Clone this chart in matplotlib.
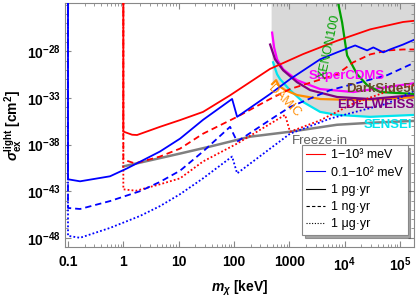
import numpy as np
import matplotlib
matplotlib.use("Agg")
import matplotlib.pyplot as plt
from matplotlib.lines import Line2D
from matplotlib.ticker import FixedLocator, FixedFormatter, LogLocator, NullFormatter

plt.rcParams['font.family'] = ['Liberation Sans', 'DejaVu Sans']
plt.rcParams['mathtext.fontset'] = 'custom'
plt.rcParams['mathtext.rm'] = 'Liberation Sans:bold'
plt.rcParams['mathtext.bf'] = 'Liberation Sans:bold'
plt.rcParams['mathtext.it'] = 'Liberation Sans:italic:bold'

# masses in keV, cross sections as log10(sigma / cm^2)
red_solid_m = [1.0, 1.0, 1.44, 1.77, 4.6, 10.6, 27.6, 85, 447, 1770, 7270, 29000, 114000, 188000]
red_solid_s = [-20, -36.6, -36.94, -36.97, -36.09, -35.37, -34.49, -32.71, -29.88, -28.29, -26.86, -25.63, -24.84, -24.7]

red_dash_m = [1.0, 1.0, 1.62, 4.6, 10.6, 27.6, 114, 450, 1030, 7300, 14300, 28900, 58700, 114000, 188000]
red_dash_s = [-20, -39.6, -40.02, -39.28, -38.43, -36.83, -35.02, -33.1, -32.04, -30.45, -29.17, -28.32, -27.9, -27.79, -27.79]

red_dot_m = [1.0, 1.0, 1.7, 4.6, 10.6, 27.6, 114, 450, 839, 1030, 3600, 14300, 58700, 188000]
red_dot_s = [-20, -42.8, -42.95, -42.26, -41.62, -39.81, -37.89, -35.77, -34.81, -36.62, -35.4, -33.6, -32.3, -31.6]

blue_solid_m = [0.1, 0.1, 0.165, 0.575, 1.17, 4.6, 10.6, 27.6, 92.5, 114, 450, 1030, 3600, 7300, 15500,
                25500, 33000, 50000, 66000, 114000, 188000]
blue_solid_s = [-20, -41.72, -41.94, -41.40, -40.55, -38.74, -37.36, -35.34, -33.1, -35.02, -32.57, -30.98,
                -28.85, -28.1, -27.36, -27.89, -27.57, -28.1, -27.79, -27.26, -26.7]

blue_dash_m = [0.1, 0.1, 0.165, 0.575, 2.0, 4.6, 10.6, 27.6, 85, 114, 450, 1030, 5500, 58700, 188000]
blue_dash_s = [-20, -44.8, -44.91, -44.06, -43.0, -42.0, -40.8, -38.74, -36.09, -37.68, -35.34, -33.96,
               -32.15, -30.55, -29.17]

blue_dot_m = [0.1, 0.1, 0.165, 0.575, 2.0, 4.6, 10.6, 27.6, 92.5, 114, 450, 1030, 5500, 58700, 188000]
blue_dot_s = [-20, -47.79, -48.0, -46.94, -45.66, -44.6, -43.32, -41.62, -39.28, -41.09, -38.43, -36.83,
              -35.2, -33.6, -32.2]

freeze_m = [1.0, 10.6, 37, 195, 1030, 7300, 28900, 188000]
freeze_s = [-40.34, -38.96, -38.21, -37.15, -36.62, -35.87, -35.66, -35.45]

sensei_m = [509, 601, 682, 1030, 1780, 3610, 7310, 28900, 188000]
sensei_s = [-29.17, -30.45, -30.98, -32.15, -33.43, -34.49, -34.81, -35.02, -34.81]
damic_m = [489, 577, 653, 839, 1380, 3610, 14300, 58700, 188000]
damic_s = [-31.51, -31.09, -31.72, -32.15, -32.68, -33.11, -33.21, -33.11, -32.89]
supercdms_m = [489, 531, 601, 773, 1380, 3610, 14300, 58700, 188000]
supercdms_s = [-25.98, -27.57, -28.85, -29.91, -31.09, -32.04, -32.36, -31.83, -31.40]
edelweiss_m = [450, 553, 773, 1380, 2380, 7310, 28900, 188000]
edelweiss_s = [-27.26, -28.85, -30.02, -31.30, -32.15, -32.89, -33.11, -32.68]
xenon_m = [7620, 9020, 10200, 11100, 16800, 25500, 43900, 188000]
xenon_s = [-22.79, -24.91, -27.04, -28.43, -30.45, -31.62, -32.36, -32.57]

excl_start = 469  # keV, left edge of the shaded region

fig = plt.figure(figsize=(4.17, 2.97), dpi=100)
ax = fig.add_axes([0.157, 0.168, 0.836, 0.822])
ax.set_xscale('log')
ax.set_yscale('log')
ax.set_xlim(0.09, 1.8e5)
ax.set_ylim(1e-49, 10**-22.8)

# shaded excluded region: above the lowest experimental curve
grid = np.logspace(np.log10(excl_start), np.log10(2e5), 400)
lg = np.log10(grid)
env = np.full_like(grid, -22.0)
for m, s in [(sensei_m, sensei_s), (damic_m, damic_s), (supercdms_m, supercdms_s),
             (edelweiss_m, edelweiss_s), (xenon_m, xenon_s)]:
    env = np.minimum(env, np.interp(lg, np.log10(m), s, left=0, right=0))
ax.fill_between(grid, 10**env, 1e-20, color='#d9d9d9', lw=0, zorder=1)

exp_lw = 1.6
ax.plot(sensei_m, 10**np.array(sensei_s), color='#00e5ee', lw=exp_lw, zorder=2)
ax.plot(damic_m, 10**np.array(damic_s), color='#ff8c00', lw=exp_lw, zorder=2)
ax.plot(supercdms_m, 10**np.array(supercdms_s), color='#ff00ff', lw=exp_lw, zorder=2)
ax.plot(edelweiss_m, 10**np.array(edelweiss_s), color='#800080', lw=exp_lw, zorder=2)
ax.plot(xenon_m, 10**np.array(xenon_s), color='#00a000', lw=exp_lw, zorder=2)

ax.plot(freeze_m, 10**np.array(freeze_s), color='#808080', lw=1.8, zorder=3)

lw = 1.3
dash = (0, (3.5, 2.2))
dot = (0, (1.0, 1.2))
ax.plot(red_solid_m, 10**np.array(red_solid_s), color='red', lw=lw, zorder=4)
ax.plot(red_dash_m, 10**np.array(red_dash_s), color='red', lw=lw, ls=dash, zorder=4)
ax.plot(red_dot_m, 10**np.array(red_dot_s), color='red', lw=lw, ls=dot, zorder=4)
ax.plot(blue_solid_m, 10**np.array(blue_solid_s), color='blue', lw=lw, zorder=4)
ax.plot(blue_dash_m, 10**np.array(blue_dash_s), color='blue', lw=lw, ls=dash, zorder=4)
ax.plot(blue_dot_m, 10**np.array(blue_dot_s), color='blue', lw=lw, ls=dot, zorder=4)

# labels
ax.text(2.2e3, 10**-31.0, 'SuperCDMS', color='#ff00ff', fontsize=9.5, fontweight='bold', zorder=6)
ax.text(1.05e4, 10**-32.4, 'DarkSide50', color='#6b4a2b', fontsize=9.5, fontweight='bold', zorder=6,
        clip_on=True)
ax.text(7.2e3, 10**-34.1, 'EDELWEISS', color='#800080', fontsize=9.5, fontweight='bold', zorder=6)
ax.text(2.2e4, 10**-36.2, 'SENSEI', color='#00e5ee', fontsize=9.5, fontweight='bold', zorder=6,
        clip_on=True)
ax.text(1.1e3, 10**-37.9, 'Freeze-in', color='#606060', fontsize=9.5, zorder=6)
ax.text(5.3e3, 10**-27.5, 'XENON100', color='#00a000', fontsize=9, rotation=78,
        ha='center', va='center', zorder=6)
ax.text(800, 10**-33.3, 'DAMIC', color='#ff8c00', fontsize=9, rotation=-45,
        ha='center', va='center', zorder=6)

# ticks
xt = [0.1, 1, 10, 100, 1000, 1e4, 1e5]
xtl = ['0.1', '1', '10', '100', '1000', r'$10^4$', r'$10^5$']
ax.xaxis.set_major_locator(FixedLocator(xt))
ax.xaxis.set_major_formatter(FixedFormatter(xtl))
ax.xaxis.set_minor_locator(LogLocator(base=10, subs=np.arange(2, 10), numticks=20))
ax.xaxis.set_minor_formatter(NullFormatter())
yt = [1e-48, 1e-43, 1e-38, 1e-33, 1e-28]
ytl = [r'$10^{-48}$', r'$10^{-43}$', r'$10^{-38}$', r'$10^{-33}$', r'$10^{-28}$']
ax.yaxis.set_major_locator(FixedLocator(yt))
ax.yaxis.set_major_formatter(FixedFormatter(ytl))
ax.yaxis.set_minor_locator(FixedLocator([10.0**k for k in range(-49, -22)]))
ax.yaxis.set_minor_formatter(NullFormatter())
ax.tick_params(which='both', direction='in', top=True, right=True, color='#888888')
ax.tick_params(which='major', length=4, labelsize=10)
ax.tick_params(axis='x', which='major', pad=6)
ax.tick_params(which='minor', length=2)
for lab in ax.get_xticklabels() + ax.get_yticklabels():
    lab.set_fontweight('bold')
for sp in ax.spines.values():
    sp.set_color('#888888')

ax.set_xlabel(r'$m_\chi$ [keV]', fontsize=10, fontweight='bold', labelpad=3)
ax.set_ylabel(r'$\sigma_{\mathrm{ex}}^{\mathrm{light}}$ [cm$^2$]', fontsize=10, fontweight='bold',
              labelpad=2)

handles = [Line2D([], [], color='red', lw=0.8),
           Line2D([], [], color='blue', lw=0.8),
           Line2D([], [], color='black', lw=0.8),
           Line2D([], [], color='black', lw=0.8, ls=(0, (3, 2))),
           Line2D([], [], color='black', lw=0.8, ls=(0, (1, 1.5)))]
labels = ['1−10³ meV', '0.1−10² meV', '1 pg·yr', '1 ng·yr', '1 μg·yr']
leg = ax.legend(handles, labels, loc='upper left', bbox_to_anchor=(302 / 417, 1 - 145 / 297),
                bbox_transform=fig.transFigure, fontsize=9, frameon=True, fancybox=False,
                shadow=True, edgecolor='#888888', handlelength=1.5, handletextpad=0.5,
                labelspacing=0.42, borderpad=0.35, borderaxespad=0)
leg.get_frame().set_linewidth(0.8)
leg.set_zorder(10)

fig.savefig('out.png', dpi=100)
